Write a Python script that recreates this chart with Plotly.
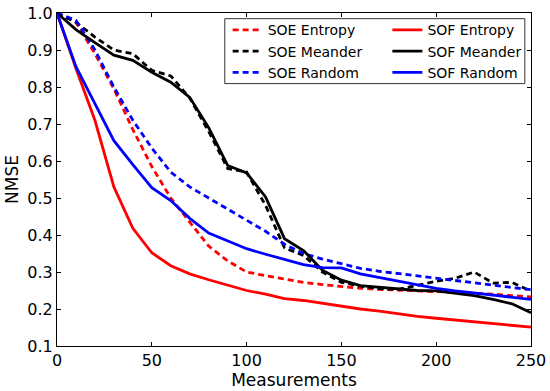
import plotly.graph_objects as go

measurements = [0, 10, 20, 30, 40, 50, 60, 70, 80, 90, 100, 110, 120, 130, 140, 150,
                160, 170, 180, 190, 200, 210, 220, 230, 240, 250]

soe_entropy = [1.0, 0.975, 0.89, 0.795, 0.685, 0.585, 0.50, 0.435, 0.37, 0.33, 0.30, 0.29,
               0.28, 0.272, 0.266, 0.26, 0.256, 0.253, 0.25, 0.249, 0.247, 0.245, 0.243,
               0.24, 0.236, 0.233]
soe_meander = [1.0, 0.975, 0.935, 0.90, 0.89, 0.845, 0.83, 0.77, 0.68, 0.58, 0.57, 0.48,
               0.365, 0.345, 0.30, 0.272, 0.262, 0.255, 0.253, 0.265, 0.275, 0.283, 0.30,
               0.27, 0.272, 0.248]
soe_random = [1.0, 0.98, 0.90, 0.80, 0.71, 0.635, 0.57, 0.53, 0.50, 0.47, 0.44, 0.41,
              0.375, 0.35, 0.335, 0.323, 0.31, 0.302, 0.296, 0.29, 0.283, 0.277, 0.27,
              0.266, 0.26, 0.252]
sof_entropy = [1.0, 0.85, 0.71, 0.53, 0.418, 0.352, 0.317, 0.295, 0.279, 0.264, 0.25, 0.24,
               0.228, 0.223, 0.215, 0.207, 0.200, 0.194, 0.186, 0.18, 0.175, 0.170, 0.165,
               0.160, 0.155, 0.151]
sof_meander = [1.0, 0.955, 0.92, 0.886, 0.872, 0.84, 0.813, 0.772, 0.69, 0.588, 0.568, 0.503,
               0.39, 0.358, 0.305, 0.278, 0.263, 0.258, 0.254, 0.25, 0.249, 0.243, 0.236,
               0.226, 0.214, 0.19]
sof_random = [1.0, 0.855, 0.755, 0.655, 0.59, 0.528, 0.493, 0.445, 0.405, 0.383, 0.363, 0.348,
              0.333, 0.32, 0.312, 0.311, 0.295, 0.285, 0.274, 0.264, 0.256, 0.249, 0.243,
              0.238, 0.231, 0.226]

series = [
    ("SOE Entropy", soe_entropy, "#ff0000", "6px,4px", "legend"),
    ("SOE Meander", soe_meander, "#000000", "6px,4px", "legend"),
    ("SOE Random", soe_random, "#0000ff", "6px,4px", "legend"),
    ("SOF Entropy", sof_entropy, "#ff0000", "solid", "legend2"),
    ("SOF Meander", sof_meander, "#000000", "solid", "legend2"),
    ("SOF Random", sof_random, "#0000ff", "solid", "legend2"),
]

FONT = "DejaVu Sans, Liberation Sans, sans-serif"

fig = go.Figure()
for name, ys, color, dash, leg in series:
    fig.add_trace(go.Scatter(
        x=measurements, y=ys, mode="lines", name=name,
        line=dict(color=color, width=2.8, dash=dash),
        legend=leg,
    ))

axis_common = dict(
    showline=True, linecolor="#000000", linewidth=1, mirror="allticks",
    ticks="inside", ticklen=4, tickwidth=1, tickcolor="#000000",
    showgrid=False, zeroline=False, automargin=False,
    tickfont=dict(family=FONT, size=16, color="#000000"),
)

fig.update_layout(
    width=550, height=391,
    margin=dict(l=57, r=19, t=13, b=45, autoexpand=False),
    paper_bgcolor="white", plot_bgcolor="white",
    font=dict(family=FONT, color="#000000"),
    xaxis=dict(range=[0, 250], dtick=50, tick0=0,
               title=dict(text="Measurements", font=dict(family=FONT, size=17), standoff=4),
               **axis_common),
    yaxis=dict(range=[0.1, 1.0], dtick=0.1, tick0=0.1, tickformat=".1f",
               title=dict(text="NMSE", font=dict(family=FONT, size=17), standoff=4),
               **axis_common),
    legend=dict(x=0.36, y=0.996, xanchor="left", yanchor="top",
                bgcolor="rgba(0,0,0,0)", borderwidth=0,
                font=dict(family=FONT, size=14, color="#000000"),
                itemwidth=30, tracegroupgap=0),
    legend2=dict(x=0.697, y=0.996, xanchor="left", yanchor="top",
                 bgcolor="rgba(0,0,0,0)", borderwidth=0,
                 font=dict(family=FONT, size=14, color="#000000"),
                 itemwidth=30, tracegroupgap=0),
    shapes=[dict(type="rect", xref="paper", yref="paper",
                 x0=0.354, x1=0.987, y0=0.788, y1=0.983,
                 line=dict(color="#333333", width=1), fillcolor="white",
                 layer="below")],
)

fig.write_html(
    "out.html",
    config={"displayModeBar": False},
    post_script="document.body.style.margin='0';document.body.style.overflow='hidden';",
)
